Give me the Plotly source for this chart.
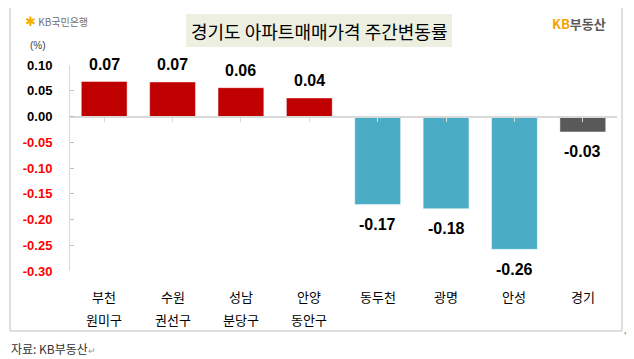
import plotly.graph_objects as go

# ---- data ----
line1 = ["부천", "수원", "성남", "안양", "동두천", "광명", "안성", "경기"]
line2 = ["원미구", "권선구", "분당구", "동안구", "", "", "", ""]
values = [0.068, 0.067, 0.056, 0.036, -0.171, -0.179, -0.258, -0.030]
ytick_vals = [0.10, 0.05, 0.00, -0.05, -0.10, -0.15, -0.20, -0.25, -0.30]
title_text = "경기도 아파트매매가격 주간변동률"
source_text = "자료: KB부동산"

# ---- styles ----
bar_colors = ["#C00000"] * 4 + ["#4BACC6"] * 3 + ["#595959"]
KR = "Noto Sans CJK KR"
NUM = "Liberation Sans"

OFF = 8  # page body margin
W, H = 634 - OFF, 359 - OFF
# plot area in page pixels
PX0, PX1, PY0, PY1 = 70, 617, 65, 271
L, R, T, B = PX0 - OFF, W - (PX1 - OFF), PY0 - OFF, H - (PY1 - OFF)
pw, ph = PX1 - PX0, PY1 - PY0


def px_x(px):
    return (px - PX0) / pw


def px_y(py):
    return (PY1 - py) / ph


xs = list(range(len(line1)))

fig = go.Figure()
fig.add_trace(go.Bar(
    x=xs, y=values,
    marker=dict(color=bar_colors, line=dict(color="rgba(255,255,255,0.45)", width=1)),
    cliponaxis=False, width=0.67, hoverinfo="skip",
))

ticktext = []
for v in ytick_vals:
    s = f"{v:.2f}"
    if v < 0:
        s = f"<span style='color:#FF0000'>{s}</span>"
    ticktext.append(s)

zero_pos = (0 - (-0.30)) / (0.10 - (-0.30))

fig.update_layout(
    width=W, height=H,
    margin=dict(l=L, r=R, t=T, b=B, autoexpand=False),
    paper_bgcolor="white", plot_bgcolor="white",
    showlegend=False,
    bargap=0.33,
    xaxis=dict(
        range=[-0.5, len(xs) - 0.5], tickvals=xs, showticklabels=False,
        anchor="free", position=zero_pos,
        showline=True, linecolor="#D9D9D9", linewidth=2,
        ticks="outside", tickson="boundaries", ticklen=4, tickcolor="#D9D9D9",
        showgrid=False, zeroline=False, fixedrange=True,
    ),
    yaxis=dict(
        range=[-0.30, 0.10], tickvals=ytick_vals, ticktext=ticktext,
        tickfont=dict(family=NUM, size=13, color="#000000", weight="bold"),
        ticks="inside", ticklen=4, tickcolor="#BFBFBF",
        showline=True, linecolor="#D9D9D9", linewidth=1,
        showgrid=False, zeroline=False, ticklabelstandoff=14, fixedrange=True,
    ),
)

shapes = [
    # outer frame
    dict(type="rect", xref="paper", yref="paper",
         x0=px_x(10), x1=px_x(622), y0=px_y(331), y1=px_y(2),
         line=dict(color="#BFBFBF", width=1), fillcolor="rgba(0,0,0,0)", layer="below"),
    # title box
    dict(type="rect", xref="paper", yref="paper",
         x0=px_x(186), x1=px_x(452), y0=px_y(47), y1=px_y(14),
         line=dict(width=0), fillcolor="#EDF0E1", layer="below"),
]
fig.update_layout(shapes=shapes)

ann = []
# value labels
for xv, v in zip(xs, values):
    ann.append(dict(text=f"{v:.2f}", xref="x", yref="y", x=xv, y=v,
                    xanchor="center", yanchor="middle", showarrow=False,
                    yshift=17 if v >= 0 else -20,
                    font=dict(family=NUM, size=16, color="#000000", weight="bold")))
ann.append(dict(text=title_text, xref="paper", yref="paper", x=px_x(319), y=px_y(31),
                xanchor="center", yanchor="middle", showarrow=False,
                font=dict(family=KR, size=18, color="#000000")))
for i, (a, b) in enumerate(zip(line1, line2)):
    ann.append(dict(text=a, xref="x", yref="paper", x=xs[i], y=px_y(296),
                    xanchor="center", yanchor="middle", showarrow=False,
                    font=dict(family=KR, size=13, color="#000000")))
    if b:
        ann.append(dict(text=b, xref="x", yref="paper", x=xs[i], y=px_y(319),
                        xanchor="center", yanchor="middle", showarrow=False,
                        font=dict(family=KR, size=13, color="#000000")))
ann.append(dict(text="(%)", xref="paper", yref="paper", x=px_x(38), y=px_y(45),
                xanchor="center", yanchor="middle", showarrow=False,
                font=dict(family=NUM, size=10, color="#404040")))
ann.append(dict(text="<span style='color:#F5B000;font-size:13px'>✱</span><span style='color:#707070'> KB국민은행</span>",
                xref="paper", yref="paper", x=px_x(23), y=px_y(20),
                xanchor="left", yanchor="middle", showarrow=False,
                font=dict(family=KR, size=10)))
ann.append(dict(text="<span style='color:#F5A300'>KB</span><span style='color:#595959'>부동산</span>",
                xref="paper", yref="paper", x=px_x(608), y=px_y(23),
                xanchor="right", yanchor="middle", showarrow=False,
                font=dict(family=KR, size=13, weight="bold")))
ann.append(dict(text=source_text + "<span style='color:#999999;font-size:9px'>↵</span>",
                xref="paper", yref="paper", x=px_x(9), y=px_y(348),
                xanchor="left", yanchor="middle", showarrow=False,
                font=dict(family=KR, size=12, color="#333333")))
ann.append(dict(text="↵", xref="paper", yref="paper", x=px_x(622), y=px_y(332),
                xanchor="left", yanchor="middle", showarrow=False,
                font=dict(family=KR, size=9, color="#999999")))
fig.update_layout(annotations=ann)

fig.write_html("out.html")
